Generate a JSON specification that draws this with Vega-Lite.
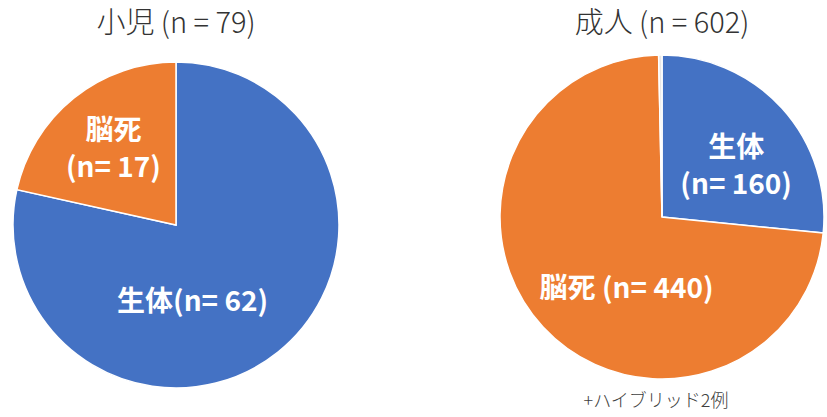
{
  "$schema": "https://vega.github.io/schema/vega-lite/v6.json",
  "padding": {"top": 10, "left": 5, "right": 0, "bottom": 5},
  "background": "white",
  "spacing": 150,
  "config": {
    "view": {"stroke": null},
    "font": "Noto Sans CJK JP",
    "title": {"fontSize": 29, "fontWeight": 300, "color": "#333333", "anchor": "middle", "offset": 4, "font": "Noto Sans CJK JP"}
  },
  "datasets": {
    "child": [
      {"type": "生体", "n": 62, "order": 1, "label": "生体(n= 62)"},
      {"type": "脳死", "n": 17, "order": 2, "label": "脳死\n(n= 17)"}
    ],
    "adult": [
      {"type": "生体", "n": 160, "order": 1, "label": "生体\n(n= 160)"},
      {"type": "脳死", "n": 440, "order": 2, "label": "脳死 (n= 440)"},
      {"type": "ハイブリッド", "n": 2, "order": 3, "label": ""}
    ],
    "note": [{"note": "+ハイブリッド2例"}]
  },
  "hconcat": [
    {
      "title": "小児 (n = 79)",
      "width": 342,
      "height": 364,
      "layer": [
        {
          "data": {"name": "child"},
          "mark": {"type": "arc", "outerRadius": 163, "stroke": "#ffffff", "strokeWidth": 1.5},
          "encoding": {
            "theta": {"field": "n", "type": "quantitative", "stack": true},
            "order": {"field": "order", "type": "quantitative"},
            "color": {"field": "type", "type": "nominal", "legend": null,
              "scale": {"domain": ["生体", "脳死", "ハイブリッド"], "range": ["#4472C4", "#ED7D31", "#E7E6E6"]}}
          }
        },
        {
          "data": {"name": "child"},
          "mark": {"type": "text", "radius": 100, "dy": -15, "fill": "#ffffff", "fontSize": 28, "fontWeight": "bold", "lineBreak": "\n", "lineHeight": 37, "align": "center", "baseline": "middle"},
          "encoding": {
            "theta": {"field": "n", "type": "quantitative", "stack": true},
            "order": {"field": "order", "type": "quantitative"},
            "text": {"condition": {"test": "datum.type === '脳死'", "field": "label", "type": "nominal"}, "value": ""}
          }
        },
        {
          "data": {"name": "child"},
          "mark": {"type": "text", "radius": 100, "dx": -46, "fill": "#ffffff", "fontSize": 28, "fontWeight": "bold", "align": "center", "baseline": "middle"},
          "encoding": {
            "theta": {"field": "n", "type": "quantitative", "stack": true},
            "order": {"field": "order", "type": "quantitative"},
            "text": {"condition": {"test": "datum.type === '生体'", "field": "label", "type": "nominal"}, "value": ""}
          }
        }
      ]
    },
    {
      "title": "成人 (n = 602)",
      "width": 326,
      "height": 348,
      "layer": [
        {
          "data": {"name": "adult"},
          "mark": {"type": "arc", "outerRadius": 162, "stroke": "#ffffff", "strokeWidth": 1.5},
          "encoding": {
            "theta": {"field": "n", "type": "quantitative", "stack": true},
            "order": {"field": "order", "type": "quantitative"},
            "color": {"field": "type", "type": "nominal", "legend": null,
              "scale": {"domain": ["生体", "脳死", "ハイブリッド"], "range": ["#4472C4", "#ED7D31", "#E7E6E6"]}}
          }
        },
        {
          "data": {"name": "adult"},
          "mark": {"type": "text", "radius": 100, "dy": -1, "fill": "#ffffff", "fontSize": 28, "fontWeight": "bold", "lineBreak": "\n", "lineHeight": 37, "align": "center", "baseline": "middle"},
          "encoding": {
            "theta": {"field": "n", "type": "quantitative", "stack": true},
            "order": {"field": "order", "type": "quantitative"},
            "text": {"condition": {"test": "datum.type === '生体'", "field": "label", "type": "nominal"}, "value": ""}
          }
        },
        {
          "data": {"name": "adult"},
          "mark": {"type": "text", "radius": 100, "dx": 38, "dy": 5, "fill": "#ffffff", "fontSize": 28, "fontWeight": "bold", "align": "center", "baseline": "middle"},
          "encoding": {
            "theta": {"field": "n", "type": "quantitative", "stack": true},
            "order": {"field": "order", "type": "quantitative"},
            "text": {"condition": {"test": "datum.type === '脳死'", "field": "label", "type": "nominal"}, "value": ""}
          }
        },
        {
          "data": {"name": "note"},
          "mark": {"type": "text", "dx": -6, "dy": 185, "fill": "#404040", "fontSize": 18, "fontWeight": 300, "align": "center", "baseline": "middle"},
          "encoding": {
            "text": {"field": "note", "type": "nominal"}
          }
        }
      ]
    }
  ]
}
